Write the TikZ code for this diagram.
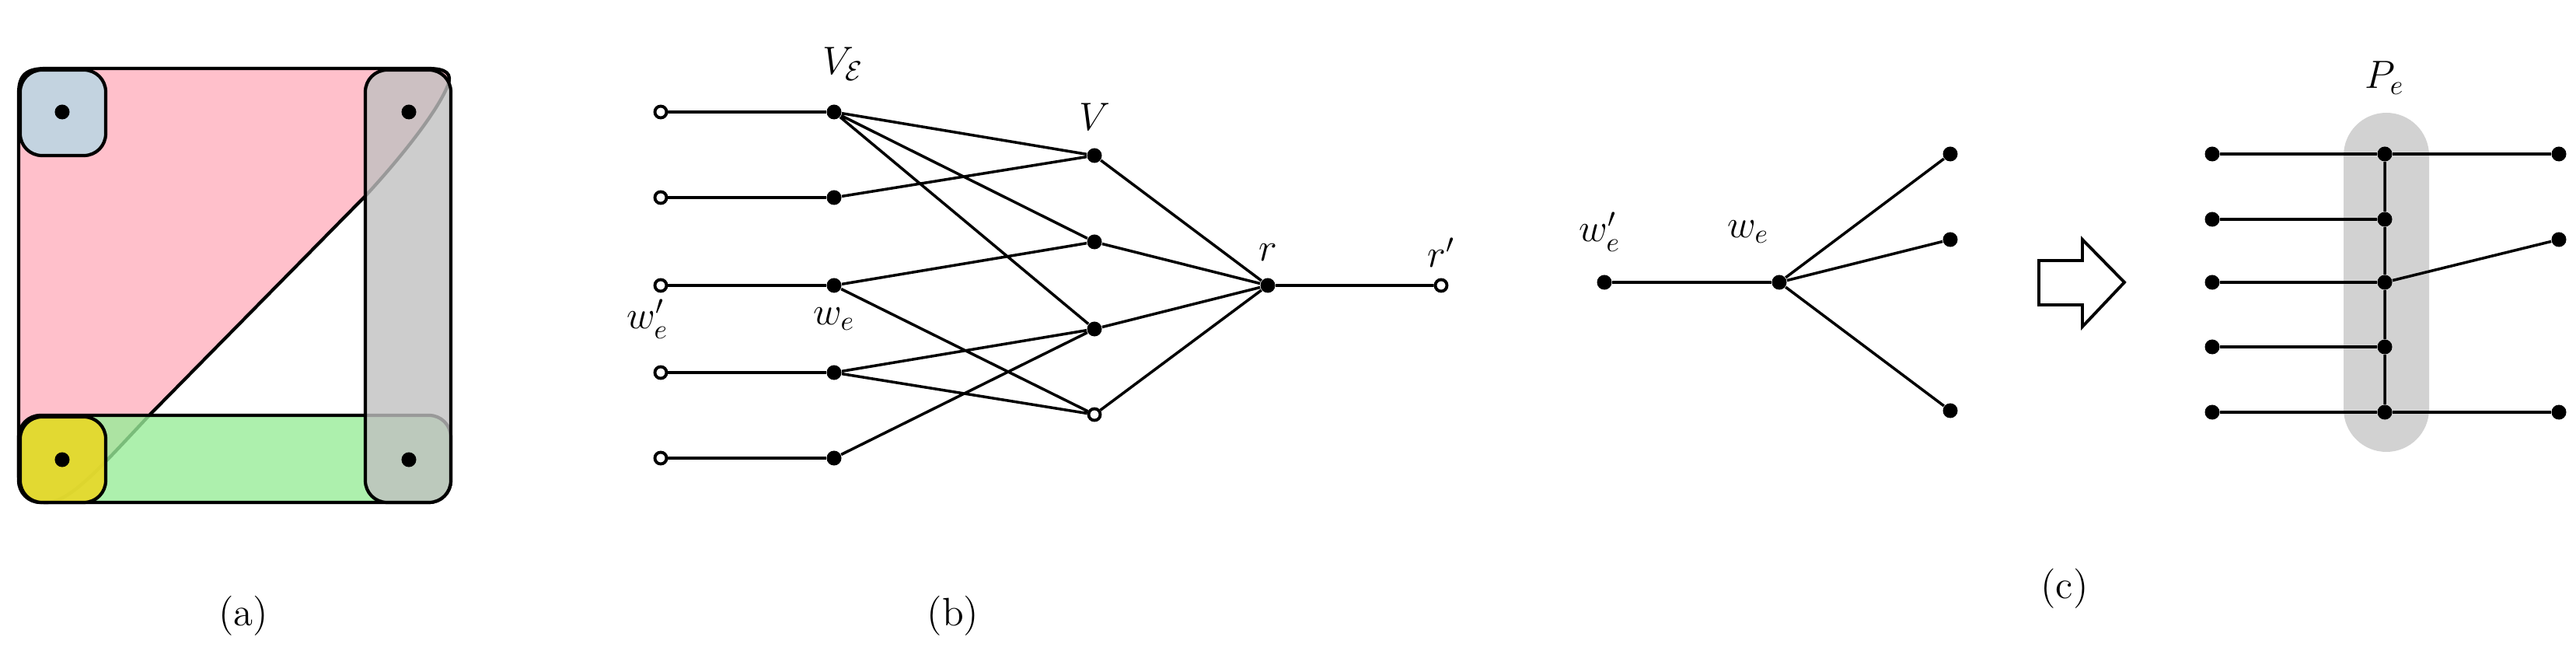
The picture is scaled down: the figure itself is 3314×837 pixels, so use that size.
\documentclass[tikz,border=0pt]{standalone}
\usepackage{amsmath}
\begin{document}
\begin{tikzpicture}[x=0.01cm,y=-0.01cm,
  dot/.style={circle,fill=black,inner sep=0pt,minimum size=0.19cm},
  open/.style={circle,draw=black,fill=white,inner sep=0pt,minimum size=0.15cm,line width=1.1pt},
  ed/.style={line width=1pt},
  lab/.style={font=\fontsize{14.5}{17}\selectfont},
  hyp/.style={draw=black,line width=1.2pt,rounded corners=0.28cm}]
\useasboundingbox (0,0) rectangle (3314,837);
\definecolor{pk}{HTML}{FFC0CB}\definecolor{bl}{HTML}{C3D3E0}
\definecolor{ye}{HTML}{E8D826}\definecolor{gr}{HTML}{98EC98}\definecolor{gy}{HTML}{C0C0C0}
% (a)
\draw[line width=1.2pt,fill=pk] (60,646) .. controls (35,646) and (24,635) .. (24,610) -- (24,120) .. controls (24,95) and (35,88) .. (60,88) -- (550,88) .. controls (575,88) and (582,95) .. (576,110) .. controls (560,150) and (500,220) .. (470,252) -- (192,534) .. controls (130,600) and (90,646) .. (60,646) -- cycle;
\draw[hyp,fill=gr,fill opacity=0.8] (24,534) rectangle (580,646);
\draw[hyp,fill=gy,fill opacity=0.8] (470,90) rectangle (580,646);
\draw[hyp,fill=bl] (26,90) rectangle (136,200);
\draw[hyp,fill=ye,fill opacity=0.9] (26,536) rectangle (136,646);
\node[dot] (a1) at (80,144) {};
\node[dot] (a2) at (526,144) {};
\node[dot] (a3) at (80,591) {};
\node[dot] (a4) at (526,591) {};
\node[lab] (la) at (313,792) {(a)};
% (b)
\foreach \i/\y in {1/144,2/254,3/367,4/479,5/589}{
  \node[open] (l\i) at (850,\y) {};
  \node[dot] (e\i) at (1073,\y) {};
  \draw[ed] (l\i) -- (e\i);
}
\node[dot] (v1) at (1408,200) {};
\node[dot] (v2) at (1408,311) {};
\node[dot] (v3) at (1408,423) {};
\node[open] (v4) at (1408,533) {};
\node[dot] (r) at (1631,367) {};
\node[open] (rp) at (1854,367) {};
\draw[ed] (e1)--(v1) (e1)--(v2) (e1)--(v3) (e2)--(v1) (e3)--(v2) (e3)--(v4)
  (e4)--(v3) (e4)--(v4) (e5)--(v3)
  (v1)--(r) (v2)--(r) (v3)--(r) (v4)--(r) (r)--(rp);
\node[lab] (tVE) at (1085,82) {$V_{\mathcal{E}}$};
\node[lab] (tV) at (1408,150) {$V$};
\node[lab] (tr) at (1631,325) {$r$};
\node[lab] (trp) at (1854,325) {$r'$};
\node[lab] (twp) at (833,410) {$w'_e$};
\node[lab] (twe) at (1073,410) {$w_e$};
\node[lab] (lb) at (1226,792) {(b)};
% (c)
\node[dot] (c0) at (2064,363) {};
\node[dot] (c1) at (2289,363) {};
\node[dot] (c2) at (2509,198) {};
\node[dot] (c3) at (2509,308) {};
\node[dot] (c4) at (2509,528) {};
\draw[ed] (c0)--(c1) (c1)--(c2) (c1)--(c3) (c1)--(c4);
\node[lab] (tw2) at (2058,298) {$w'_e$};
\node[lab] (tw3) at (2249,298) {$w_e$};
\draw[line width=1.1pt,fill=white] (2623,335) -- (2679,335) -- (2679,308) -- (2733,363) -- (2679,420) -- (2679,392) -- (2623,392) -- cycle;
\fill[gray!35,rounded corners=0.55cm] (3015,145) rectangle (3125,581);
\node[lab] (tPe) at (3068,100) {$P_e$};
\foreach \i/\y in {1/198,2/282,3/363,4/446,5/530}{
  \node[dot] (g\i) at (2846,\y) {};
  \node[dot] (m\i) at (3068,\y) {};
  \draw[ed] (g\i) -- (m\i);
}
\node[dot] (h1) at (3292,198) {};
\node[dot] (h3) at (3292,308) {};
\node[dot] (h5) at (3292,530) {};
\draw[ed] (m1)--(h1) (m3)--(h3) (m5)--(h5) (m1)--(m2) (m2)--(m3) (m3)--(m4) (m4)--(m5);
\node[lab] (lc) at (2656,757) {(c)};
\end{tikzpicture}
\end{document}
